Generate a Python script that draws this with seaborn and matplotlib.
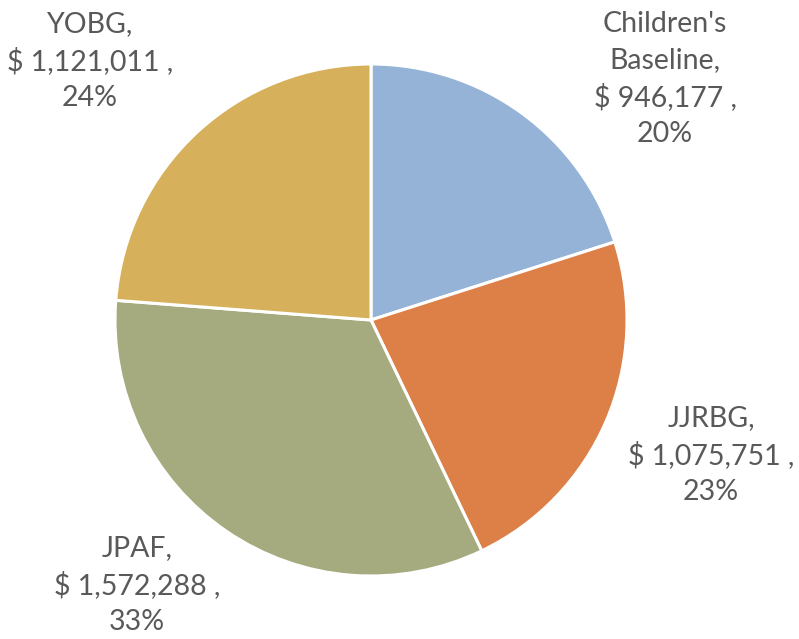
import matplotlib
matplotlib.use("Agg")
import matplotlib.pyplot as plt
import seaborn as sns

sns.set_theme(style="white")
plt.rcParams['font.family'] = ['Lato', 'DejaVu Sans']

categories = ["Children's Baseline", "JJRBG", "JPAF", "YOBG"]
label_names = ["Children's\nBaseline,", "JJRBG,", "JPAF,", "YOBG,"]
values = [946177, 1075751, 1572288, 1121011]
colors = ["#95B3D7", "#DD8047", "#A5AB7E", "#D6B05B"]

W, H = 799, 639
fig = plt.figure(figsize=(W / 100, H / 100), dpi=100)
cx, cy, r = 371, 320, 256
ax = fig.add_axes([(cx - r) / W, (H - cy - r) / H, 2 * r / W, 2 * r / H])
wedges, _ = ax.pie(values, colors=colors, startangle=90, counterclock=False,
                   wedgeprops=dict(edgecolor="white", linewidth=2.2))
ax.set_xlim(-1, 1)
ax.set_ylim(-1, 1)
ax.set_aspect("equal")
ax.axis("off")

total = sum(values)
# label block centres in pixels
label_pos = [(665, 79), (711, 455), (137, 585), (90, 61)]
for name, v, (px, py) in zip(label_names, values, label_pos):
    txt = f"{name}\n$ {v:,} ,\n{round(100 * v / total):.0f}%"
    fig.text(px / W, 1 - py / H, txt, ha="center", va="center",
             fontsize=20.5, color="#595959", linespacing=1.46, multialignment="center")

fig.savefig("out.png", dpi=100)
